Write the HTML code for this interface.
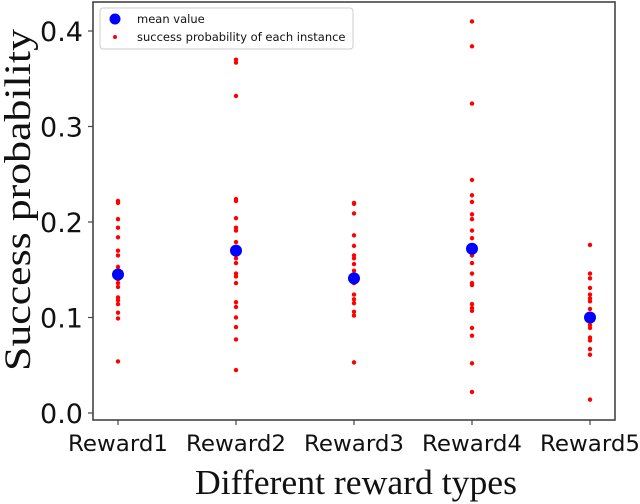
<!DOCTYPE html>
<html><head><meta charset="utf-8"><style>
html,body{margin:0;padding:0;background:#fff;width:640px;height:504px;overflow:hidden}
svg{display:block}
</style></head><body>
<svg id="chart" width="640" height="504" viewBox="0 0 640 504" xmlns="http://www.w3.org/2000/svg">
<g id="plot"></g>
</svg>
<script>
const categories = ["Reward1","Reward2","Reward3","Reward4","Reward5"];
const means = [0.145, 0.170, 0.141, 0.172, 0.100];
const inst1 = [0.222,0.220,0.203,0.194,0.184,0.170,0.165,0.153,0.140,0.136,0.132,0.121,0.118,0.114,0.105,0.099,0.054];
const inst2 = [0.370,0.367,0.332,0.224,0.222,0.204,0.194,0.191,0.179,0.167,0.162,0.157,0.146,0.143,0.136,0.116,0.111,0.100,0.090,0.077,0.045];
const inst3 = [0.220,0.219,0.209,0.186,0.175,0.165,0.162,0.156,0.149,0.136,0.124,0.119,0.115,0.106,0.102,0.053];
const inst4 = [0.410,0.384,0.324,0.244,0.228,0.221,0.208,0.203,0.191,0.183,0.165,0.157,0.146,0.136,0.134,0.114,0.110,0.107,0.089,0.081,0.052,0.022];
const inst5 = [0.176,0.146,0.141,0.131,0.124,0.120,0.117,0.109,0.092,0.089,0.079,0.076,0.067,0.061,0.014];
const instances = [inst1,inst2,inst3,inst4,inst5];
const yTicks = [0.0,0.1,0.2,0.3,0.4];
const yTickLabels = ["0.0","0.1","0.2","0.3","0.4"];

const NS="http://www.w3.org/2000/svg";
const g=document.getElementById('plot');
const L=93,R=615,T=2,B=420;
function xs(i){return 118+i*118;}
function ys(v){return 413-v*955;}
function mk(tag,attrs,parent){const e=document.createElementNS(NS,tag);for(const k in attrs)e.setAttribute(k,attrs[k]);(parent||g).appendChild(e);return e;}

const fr=mk('rect',{x:L,y:T,width:R-L,height:B-T,fill:'none',stroke:'#444','stroke-width':1.6});



yTicks.forEach((v,i)=>{
  const y=ys(v);
  const t=mk('line',{x1:L-5,x2:L,y1:y,y2:y,stroke:'#444','stroke-width':1.2});
  
  
  const tx=mk('text',{x:L-10,y:y+10,'text-anchor':'end','font-family':'DejaVu Sans, sans-serif','font-size':27,fill:'#111'});
  tx.textContent=yTickLabels[i];
  
  
});
categories.forEach((c,i)=>{
  const x=xs(i);
  const t=mk('line',{x1:x,x2:x,y1:B,y2:B+5,stroke:'#444','stroke-width':1.2});
  
  
  const tx=mk('text',{x:x-50,y:B+31,'font-family':'DejaVu Sans, sans-serif','font-size':22,fill:'#111',textLength:100,lengthAdjust:'spacingAndGlyphs'});
  tx.textContent=c;
  
  
});
instances.forEach((arr,i)=>{
  arr.forEach(v=>{
    const d=mk('circle',{cx:xs(i),cy:ys(v),r:2.2,fill:'#ff0000'});
    
    
  });
});
means.forEach((v,i)=>{
  const d=mk('circle',{cx:xs(i),cy:ys(v),r:6,fill:'#0000ff'});
  
  
});
const yt=mk('text',{x:-371,y:30,transform:'rotate(-90)','font-family':'Liberation Serif, serif','font-size':37,fill:'#111',textLength:342,lengthAdjust:'spacingAndGlyphs'});
yt.textContent='Success probability';


const xt=mk('text',{x:195,y:494,'font-family':'Liberation Serif, serif','font-size':35,fill:'#111',textLength:322,lengthAdjust:'spacingAndGlyphs'});
xt.textContent='Different reward types';



const lg=mk('g',{});


mk('rect',{x:100,y:8,width:253,height:41,rx:3,fill:'#fff','fill-opacity':0.8,stroke:'#ccc','stroke-width':1},lg);
const l1=mk('circle',{cx:115,cy:19,r:5.5,fill:'#0000ff'},lg);


const t1=mk('text',{x:137,y:23,'font-family':'DejaVu Sans, sans-serif','font-size':11.5,fill:'#111'},lg);
t1.textContent='mean value';


const l2=mk('circle',{cx:115,cy:37,r:2,fill:'#ff0000'},lg);


const t2=mk('text',{x:137,y:41,'font-family':'DejaVu Sans, sans-serif','font-size':11.5,fill:'#111'},lg);
t2.textContent='success probability of each instance';


</script>
</body></html>
